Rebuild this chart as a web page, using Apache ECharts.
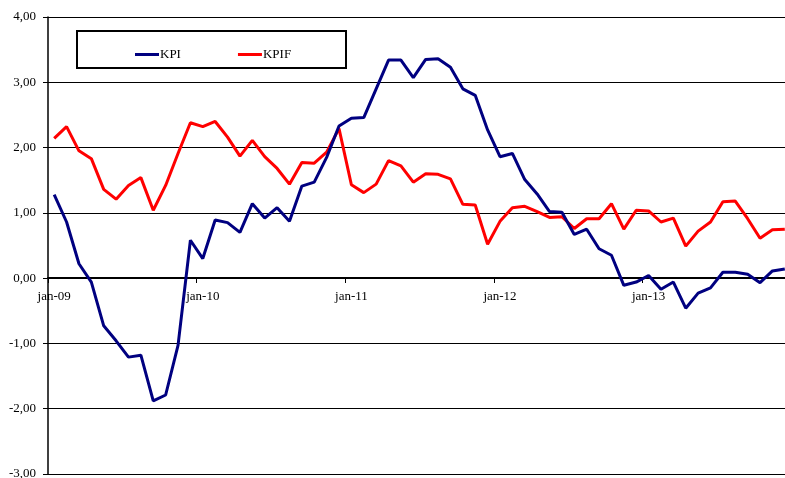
<!DOCTYPE html>
<html>
<head>
<meta charset="utf-8">
<script src="https://cdn.jsdelivr.net/npm/echarts@6/dist/echarts.min.js"></script>
<style>
html,body{margin:0;padding:0;background:#fff;}
#chart{width:785px;height:478px;}
</style>
</head>
<body>
<div id="chart"></div>
<script>
// Months jan-09 .. dec-13
const monthNames = ['jan','feb','mar','apr','maj','jun','jul','aug','sep','okt','nov','dec'];
const years = ['09','10','11','12','13'];
const categories = [];
years.forEach(y => monthNames.forEach(m => categories.push(m + '-' + y)));

const kpi = [
  1.28, 0.86, 0.22, -0.06, -0.73, -0.96, -1.21, -1.18, -1.88, -1.79, -1.03, 0.58,
  0.30, 0.89, 0.85, 0.70, 1.14, 0.92, 1.08, 0.87, 1.41, 1.47, 1.85, 2.33,
  2.45, 2.46, 2.90, 3.34, 3.34, 3.07, 3.35, 3.36, 3.23, 2.90, 2.80, 2.27,
  1.86, 1.91, 1.51, 1.29, 1.02, 1.01, 0.67, 0.75, 0.45, 0.35, -0.11, -0.06,
  0.04, -0.17, -0.06, -0.46, -0.23, -0.15, 0.09, 0.09, 0.06, -0.07, 0.11, 0.14
];
const kpif = [
  2.14, 2.32, 1.95, 1.83, 1.36, 1.21, 1.42, 1.54, 1.04, 1.42, 1.91, 2.38,
  2.32, 2.40, 2.16, 1.87, 2.11, 1.86, 1.68, 1.44, 1.77, 1.76, 1.93, 2.29,
  1.43, 1.31, 1.44, 1.80, 1.72, 1.47, 1.60, 1.59, 1.52, 1.13, 1.12, 0.52,
  0.87, 1.08, 1.10, 1.02, 0.93, 0.94, 0.76, 0.91, 0.91, 1.14, 0.75, 1.04,
  1.03, 0.86, 0.92, 0.49, 0.72, 0.86, 1.17, 1.18, 0.91, 0.61, 0.74, 0.75
];
const seriesNames = ['KPI', 'KPIF'];

const serif = '"Liberation Serif","Times New Roman",serif';
const chart = echarts.init(document.getElementById('chart'), null, {renderer: 'canvas'});
chart.setOption({
  animation: false,
  backgroundColor: '#fff',
  grid: {left: 48, right: -6, top: 17, bottom: 4, containLabel: false, outerBoundsMode: 'none'},
  graphic: [{
    type: 'rect', z: 10,
    shape: {x: 77, y: 31, width: 269, height: 37},
    style: {fill: '#fff', stroke: '#000', lineWidth: 2}
  }],
  legend: {
    z: 20,
    left: 130, top: 43,
    itemWidth: 24, itemHeight: 3, itemGap: 57,
    icon: 'rect',
    textStyle: {fontFamily: serif, fontSize: 13, color: '#000', padding: [0,0,0,-4]},
    data: seriesNames
  },
  xAxis: {
    type: 'category',
    data: categories,
    boundaryGap: true,
    position: 'bottom',
    offset: -196,
    axisLine: {onZero: false, lineStyle: {color: '#000', width: 2}},
    axisTick: {show: true, interval: 11, length: 5, lineStyle: {color: '#000', width: 1}},
    axisLabel: {interval: 11, fontFamily: serif, fontSize: 13, color: '#000', margin: 12},
    splitLine: {show: false}
  },
  yAxis: {
    type: 'value',
    min: -3, max: 4, interval: 1,
    axisLine: {show: true, lineStyle: {color: '#000', width: 1.5}},
    axisTick: {show: true, length: 5, lineStyle: {color: '#000'}},
    axisLabel: {
      fontFamily: serif, fontSize: 13, color: '#000', margin: 12,
      formatter: v => v.toFixed(2).replace('.', ',')
    },
    splitLine: {show: true, lineStyle: {color: '#000', width: 1}}
  },
  series: [
    {
      name: seriesNames[0], type: 'line', data: kpi,
      symbol: 'none', color: '#000080',
      lineStyle: {color: '#000080', width: 3}, z: 3
    },
    {
      name: seriesNames[1], type: 'line', data: kpif,
      symbol: 'none', color: '#ff0000',
      lineStyle: {color: '#ff0000', width: 3}, z: 2
    }
  ]
});
</script>
</body>
</html>
